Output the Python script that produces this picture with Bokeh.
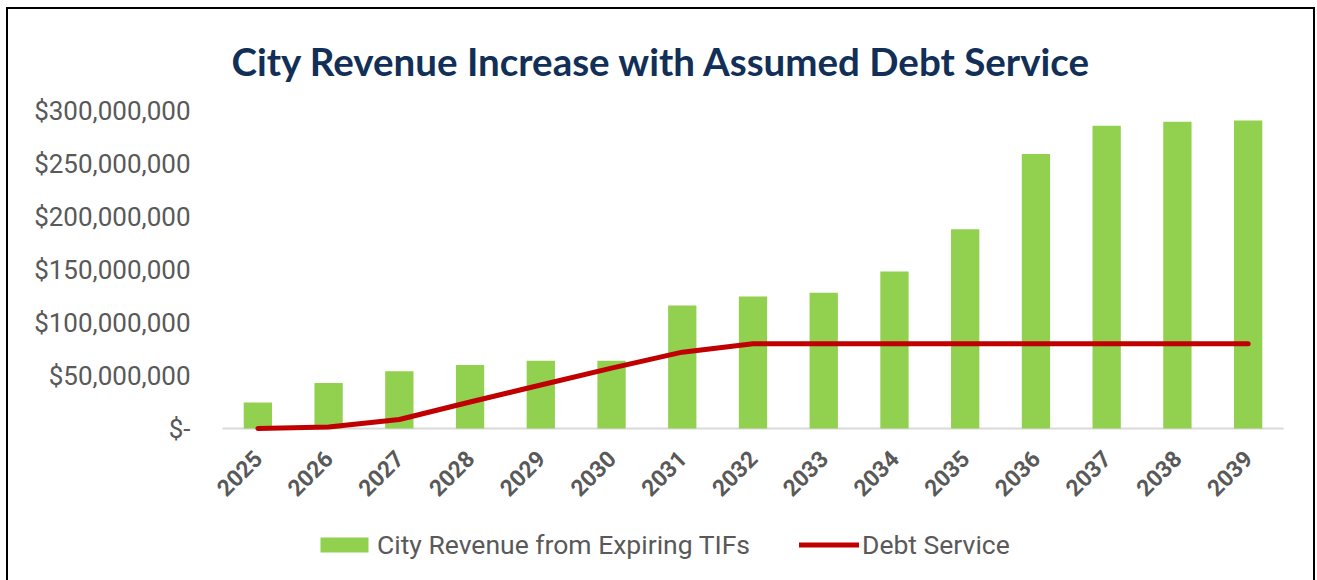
import math
from bokeh.plotting import figure
from bokeh.models import (Range1d, FactorRange, FixedTicker, NumeralTickFormatter, Legend,
                          LegendItem, ColumnDataSource)
from bokeh.transform import dodge
from bokeh.embed import file_html
from bokeh.resources import INLINE

years = ["2025", "2026", "2027", "2028", "2029", "2030", "2031", "2032",
         "2033", "2034", "2035", "2036", "2037", "2038", "2039"]
revenue = [24.5e6, 43e6, 54e6, 60e6, 64e6, 64e6, 116e6, 124.5e6,
           128e6, 148e6, 188e6, 259e6, 285.5e6, 289.5e6, 290.5e6]
debt = [0, 1.5e6, 8.5e6, 25e6, 41e6, 57e6, 72e6, 80e6,
        80e6, 80e6, 80e6, 80e6, 80e6, 80e6, 80e6]
y_ticks = [0, 50e6, 100e6, 150e6, 200e6, 250e6, 300e6]

title_text = "City Revenue Increase with Assumed Debt Service"
bar_label = "City Revenue from Expiring TIFs"
line_label = "Debt Service"

GREEN = "#92d050"
RED = "#c00000"
GRAY = "#595959"
NAVY = "#122f57"

# layout geometry (pixels)
W, H = 1317, 580
FRAME_LEFT, FRAME_RIGHT, FRAME_TOP = 200, 12, 110
PLOT_LEFT, PLOT_RIGHT = 222, 1283   # where the category band starts / ends
ZERO_Y = 428                        # pixel row of the value 0
Y_MAX = 300e6
y_low = -Y_MAX * (H - ZERO_Y) / (ZERO_Y - FRAME_TOP)
frame_w = W - FRAME_LEFT - FRAME_RIGHT
px_per_cat = (PLOT_RIGHT - PLOT_LEFT) / len(years)
x_pad_each_side = (frame_w / px_per_cat - len(years)) / 2

src = ColumnDataSource(dict(year=years, revenue=revenue, debt=debt))
axis_src = ColumnDataSource(dict(x0=[years[0]], x1=[years[-1]], y=[0]))

x_range = FactorRange(factors=years, range_padding=x_pad_each_side,
                      range_padding_units="absolute")
p = figure(x_range=x_range, y_range=Range1d(y_low, Y_MAX), width=W, height=H,
           output_backend="svg", toolbar_location=None, title=title_text,
           min_border_left=FRAME_LEFT, min_border_right=FRAME_RIGHT,
           min_border_top=FRAME_TOP, min_border_bottom=0)
p.outline_line_color = None
p.background_fill_alpha = 0
p.border_fill_alpha = 0
p.styles = {
    "background-image": "linear-gradient(#000,#000), linear-gradient(#000,#000), linear-gradient(#000,#000)",
    "background-size": "2px 580px, 1309px 2px, 2px 580px",
    "background-position": "6px 7px, 6px 7px, 1313px 7px",
    "background-repeat": "no-repeat",
}

p.title.text_font = "Lato"
p.title.text_font_size = "38.5px"
p.title.text_font_style = "bold"
p.title.text_color = NAVY
p.title.align = "left"
p.title.offset = 31
p.title.standoff = 54

# category-band baseline (axis line)
p.segment(x0=dodge("x0", -0.5, range=x_range), x1=dodge("x1", 0.5, range=x_range),
          y0="y", y1="y", source=axis_src, line_color="#d9d9d9", line_width=2)

bars = p.vbar(x="year", top="revenue", width=0.4, source=src,
              fill_color=GREEN, line_color=None)
line = p.line(x="year", y="debt", source=src, line_color=RED, line_width=5,
              line_cap="round", line_join="round")

p.xgrid.grid_line_color = None
p.ygrid.grid_line_color = None

p.yaxis.ticker = FixedTicker(ticks=y_ticks)
p.yaxis.formatter = NumeralTickFormatter(format="$0,0")
p.yaxis.major_label_overrides = {0: "$-"}
p.yaxis.axis_line_color = None
p.yaxis.major_tick_line_color = None
p.yaxis.minor_tick_line_color = None
p.yaxis.major_tick_out = 0
p.yaxis.major_tick_in = 0
p.yaxis.major_label_text_font = "Roboto"
p.yaxis.major_label_text_font_size = "26px"
p.yaxis.major_label_text_color = GRAY
p.yaxis.major_label_standoff = 10

p.xaxis.fixed_location = 0
p.xaxis.axis_line_color = None
p.xaxis.major_tick_line_color = None
p.xaxis.minor_tick_line_color = None
p.xaxis.major_tick_out = 0
p.xaxis.major_tick_in = 0
p.xaxis.major_label_orientation = math.pi / 4
p.xaxis.major_label_text_font = "Roboto"
p.xaxis.major_label_text_font_style = "bold"
p.xaxis.major_label_text_font_size = "23px"
p.xaxis.major_label_text_color = GRAY
p.xaxis.major_label_standoff = 26

legend = Legend(items=[LegendItem(label=bar_label, renderers=[bars]),
                       LegendItem(label=line_label, renderers=[line])],
                orientation="horizontal", location=(114, 20),
                label_text_font="Roboto", label_text_font_size="26.5px",
                label_text_color=GRAY, glyph_width=60, glyph_height=19,
                spacing=49, label_standoff=3, border_line_color=None,
                background_fill_alpha=0, margin=0, padding=0)
p.add_layout(legend)

open("out.html", "w").write(file_html(p, INLINE))
